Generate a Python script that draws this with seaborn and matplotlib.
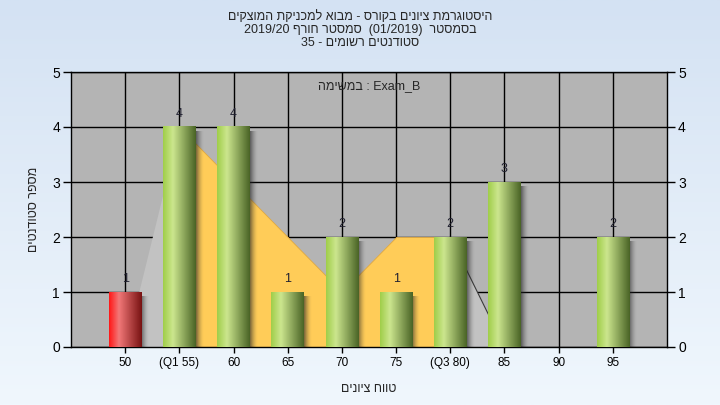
import numpy as np
import pandas as pd
import matplotlib
matplotlib.use('Agg')
import matplotlib.pyplot as plt
import seaborn as sns

# --- data ---
tick_labels = ['50', '(Q1 55)', '60', '65', '70', '75', '(Q3 80)', '85', '90', '95']
counts = [1, 4, 4, 1, 2, 1, 2, 3, 0, 2]
bar_kind = ['low', 'mid', 'mid', 'mid', 'mid', 'mid', 'mid', 'mid', 'mid', 'mid']
# background distribution outline (50..85) and the Q1-Q3 band inside it
dist_curve = [0, 4, 3, 2, 1, 2, 2, 0]
iqr_start, iqr_end = 1, 6

title_lines = [
    'היסטוגרמת ציונים בקורס - מבוא למכניקת המוצקים',
    ('2019/20', 'סמסטר חורף', '(01/2019)', 'בסמסטר'),
    ('35', 'סטודנטים רשומים'),
]
ylabel = 'מספר סטודנטים'
xlabel = 'טווח ציונים'
task_word = 'במשימה'
task_name = 'Exam_B'


def vis(s):
    # matplotlib draws left-to-right, so hebrew goes in visual order
    return s[::-1]


sns.set_theme(style='white')
plt.rcParams['font.family'] = ['Liberation Sans', 'DejaVu Sans']

fig = plt.figure(figsize=(7.2, 4.05), dpi=100)

# light blue page gradient
bg = fig.add_axes([0, 0, 1, 1], zorder=-10)
top = np.array([212, 226, 243]) / 255
bot = np.array([240, 247, 253]) / 255
t = np.linspace(0, 1, 200)[:, None]
grad = (top * (1 - t) + bot * t)[:, None, :]
bg.imshow(grad, aspect='auto', extent=[0, 1, 0, 1])
bg.axis('off')

ax = fig.add_axes([71 / 720, 1 - 347 / 405, 596 / 720, 275 / 405])
ax.set_facecolor('#b4b4b4')

df = pd.DataFrame({'label': tick_labels, 'count': counts, 'kind': bar_kind})
sns.barplot(data=df, x='label', y='count', hue='kind', order=tick_labels,
            palette={'low': '#e02020', 'mid': '#8db43c'}, width=0.6,
            legend=False, saturation=1, ax=ax, zorder=3, linewidth=0)

# areas behind the bars
xs = np.arange(len(dist_curve))
ax.fill_between(xs, dist_curve, color='#c2c2c2', zorder=1, lw=0)
ax.plot(xs[iqr_end:iqr_end + 2], dist_curve[iqr_end:iqr_end + 2], color='#3a3a3a', lw=0.8, zorder=1.5)
xi = xs[iqr_start:iqr_end + 1]
ax.fill_between(xi, dist_curve[iqr_start:iqr_end + 1], color='#ffcc58',
                edgecolor='#e0a840', lw=0.6, zorder=1.2)


def cyl(c_left, c_hi, c_dark):
    pos = np.linspace(0, 1, 64)
    stops = [0, 0.3, 1]
    cols = np.array([c_left, c_hi, c_dark]) / 255
    return np.stack([np.interp(pos, stops, cols[:, k]) for k in range(3)], axis=-1)[None, :, :]


green = cyl([160, 206, 74], [204, 230, 142], [74, 100, 38])
red = cyl([255, 24, 24], [242, 120, 120], [120, 18, 18])

shadow = np.zeros((1, 32, 4))
shadow[..., :3] = 0.15
shadow[..., 3] = np.linspace(0.75, 0, 32) ** 1.6

for patch, c, kind in zip(ax.patches, counts, bar_kind):
    if c <= 0:
        continue
    x0, w, h = patch.get_x(), patch.get_width(), patch.get_height()
    img = red if kind == 'low' else green
    ax.imshow(img, aspect='auto', extent=[x0, x0 + w, 0, h], zorder=3.5, interpolation='bilinear')
    ax.imshow(shadow, aspect='auto', extent=[x0 + w, x0 + w + 0.13, 0, h - 0.08],
              zorder=2.5, interpolation='bilinear')
    ax.text(x0 + w / 2, h + 0.13, str(c), ha='center', va='bottom', fontsize=9, color='#202030', zorder=4)

ax.set_xlim(-1, len(tick_labels))
ax.set_ylim(0, 5)
ax.set_yticks(range(6))
ax.set_xticks(range(len(tick_labels)))
ax.set_xticklabels(tick_labels, fontsize=8.5)
ax.grid(True, color='black', lw=1)
ax.set_axisbelow(True)
ax.tick_params(axis='y', direction='out', length=6, width=1, colors='black', labelsize=10, pad=2,
               left=True)
ax.tick_params(axis='x', direction='out', length=4, width=1, colors='black', pad=3, bottom=True)
for s in ['left', 'right', 'bottom', 'top']:
    ax.spines[s].set_color('black')
    ax.spines[s].set_linewidth(1)

ax2 = ax.twinx()
ax2.set_ylim(0, 5)
ax2.set_yticks(range(6))
ax2.tick_params(axis='y', direction='out', length=6, width=1, colors='black', labelsize=10, pad=2,
                right=True)
ax2.grid(False)
for s in ['left', 'right', 'bottom', 'top']:
    ax2.spines[s].set_visible(False)

ax.set_xlabel(vis(xlabel), fontsize=9, labelpad=10)
ax.set_ylabel(vis(ylabel), fontsize=9, labelpad=9)

ax.text(0.5, 0.95, vis(task_word) + ' : ' + task_name, transform=ax.transAxes,
        ha='center', va='center', fontsize=9, zorder=5)

l1 = vis(title_lines[0])
a, b, c3, d = title_lines[1]
l2 = a + ' ' + vis(b) + '  ' + c3 + '  ' + vis(d)
n, words = title_lines[2]
l3 = n + ' - ' + vis(words)
for i, line in enumerate([l1, l2, l3]):
    fig.text(0.5, 1 - (17 + 13 * i) / 405, line, ha='center', va='center', fontsize=9)

fig.savefig('out.png', dpi=100)
